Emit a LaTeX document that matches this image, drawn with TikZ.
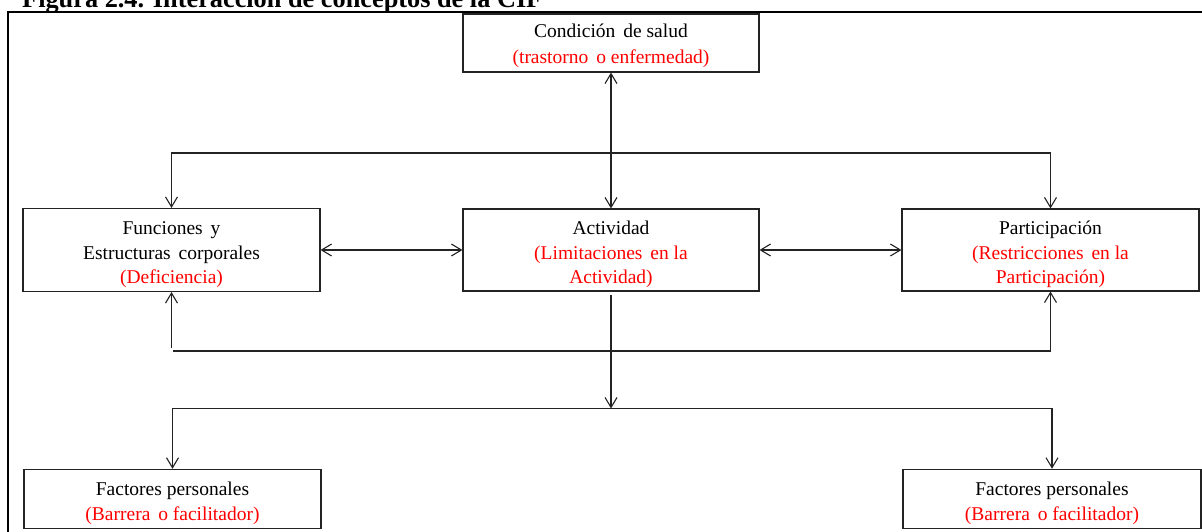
\documentclass[tikz,border=0pt]{standalone}
\usepackage{fontspec}
\setmainfont{Liberation Serif}
\usetikzlibrary{arrows.meta}
\definecolor{cred}{RGB}{255,0,0}
\definecolor{lin}{RGB}{35,35,35}
\newcommand\xs{\hspace{3pt}}
\newcommand\tstr{\rule{0pt}{22.5pt}}
\newcommand\tstrc{\rule{0pt}{18.5pt}}
\newcommand\bstr{\rule[-4.5pt]{0pt}{4.5pt}}
\begin{document}
\begin{tikzpicture}[x=1pt,y=-1pt,
  box/.style={draw=lin, line width=1.1pt, minimum width=297pt, inner sep=0pt,
    align=center, font=\fontsize{19.5}{24.5}\selectfont, text=black},
  conn/.style={draw=lin, line width=1.1pt},
  >={Straight Barb[length=10pt,width=12pt]}]
\useasboundingbox (0,0) rectangle (1202,531);
% frame and title
\draw[line width=2.2pt, black] (8,560) |- (1230,12);
\node[anchor=base west, inner sep=0pt, font=\bfseries\fontsize{26.3}{30}\selectfont] (title) at (22,7) {Figura 2.4. Interacción de conceptos de la CIF};
% boxes
\node[box, minimum width=296pt, minimum height=58pt, font=\fontsize{19.5}{26}\selectfont] (cond) at (611,43)
  {\tstrc Condición\xs\ de salud\\ \textcolor{cred}{(trastorno\xs\ o enfermedad)}\bstr};
\node[box, minimum height=83pt] (fun) at (171.5,250)
  {\tstr Funciones\xs\ y\\ Estructuras\xs\ corporales\\ \textcolor{cred}{(Deficiencia)}\bstr};
\node[box, minimum width=296pt, minimum height=82pt] (act) at (611,250)
  {\tstr Actividad\\ \textcolor{cred}{(Limitaciones\xs\ en la}\\ \textcolor{cred}{Actividad)}\bstr};
\node[box, minimum height=82pt] (par) at (1050.5,250)
  {\tstr Participación\\ \textcolor{cred}{(Restricciones\xs\ en la}\\ \textcolor{cred}{Participación)}\bstr};
\node[box, minimum height=59pt] (fp1) at (172.5,498.8)
  {\tstr Factores personales\\ \textcolor{cred}{(Barrera\xs\ o facilitador)}\bstr};
\node[box, minimum width=298pt, minimum height=59pt] (fp2) at (1052,498.8)
  {\tstr Factores personales\\ \textcolor{cred}{(Barrera\xs\ o facilitador)}\bstr};
% bus coordinates
\coordinate (tb) at (0,153);
\coordinate (bbs) at (173,351);
\coordinate (lb) at (0,408.5);
% connectors
\draw[conn,<->] (cond) -- (act);
\draw[conn,<->] (fun.north) -- (fun.north |- tb) -- (par.north |- tb) -- (par.north);
\draw[conn,<->] (fun) -- (act);
\draw[conn,<->] (act) -- (par);
\draw[conn,->] ([yshift=-56pt]fun.south) -- (fun.south);
\draw[conn,->] (bbs) -- (par.south |- bbs) -- (par.south);
\draw[conn,->,shorten <=3pt] (act.south) -- (act.south |- lb);
\draw[conn,<->] (fp1.north) -- (fp1.north |- lb) -- (fp2.north |- lb) -- (fp2.north);
\end{tikzpicture}
\end{document}
